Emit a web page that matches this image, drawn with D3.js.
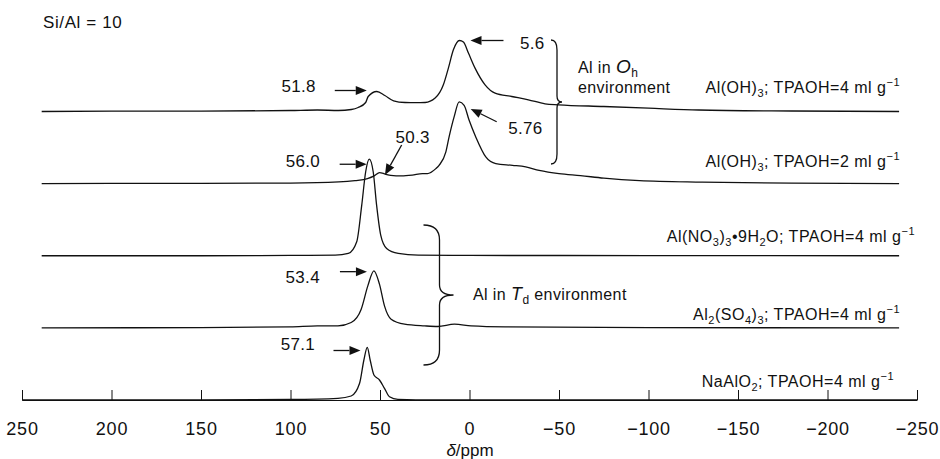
<!DOCTYPE html>
<html>
<head>
<meta charset="utf-8">
<script src="https://cdn.jsdelivr.net/npm/d3@7"></script>
<style>
  html, body { margin: 0; padding: 0; background: #fff; }
  svg text { font-family: "Liberation Sans", Arial, sans-serif; fill: #111; }
</style>
</head>
<body>
<svg id="chart" width="940" height="459"></svg>
<script>
// 27Al MAS NMR spectra of silicalite-type samples, Si/Al = 10, stacked by aluminium source.
// Each spectrum: [chemical shift (ppm), intensity (a.u.)]

const ohTpa4 = [
  [239, 0], [200, 0.3], [150, 0.3], [100, 1], [85, 1.5], [73.2, 1], [66, 2], [62.2, 4], [58, 9],
  [56.6, 15], [51.8, 20], [47.3, 16], [42.4, 10.7], [36, 9], [30, 8.8], [24.8, 9], [19.2, 13.4],
  [14.6, 26.7], [11.8, 43.4], [9.0, 61.7], [5.6, 71], [3.4, 69.4], [0.6, 58.4], [-3.1, 43.4],
  [-8.7, 26.7], [-14.3, 18.4], [-23.6, 15], [-32.9, 11.7], [-42.2, 7.7], [-49.7, 6.7], [-75, 5],
  [-100, 3.3], [-128, 1.5], [-180, 0.5], [-240, 0]
];

const ohTpa2 = [
  [239, 0], [200, 0.3], [150, 0.3], [100, 0.6], [73, 1.7], [64, 3], [57, 5], [53, 8], [50.3, 11],
  [47, 9.5], [44, 8.3], [38, 7.7], [32, 8.5], [26.3, 10], [23.5, 10], [18.8, 15], [17, 18.3],
  [13.2, 31.7], [11.4, 46.7], [8.6, 66.7], [5.76, 81.7], [3, 78.3], [0.2, 63.3], [-3.5, 46.7],
  [-9.1, 26.7], [-14.7, 20], [-24, 18.3], [-31.4, 16.7], [-38.9, 13.3], [-50, 10], [-62, 8],
  [-75, 5.5], [-95, 3], [-130, 1.5], [-180, 0.5], [-240, 0]
];

const nitrateTpa4 = [
  [239, 0], [150, 0], [100, 0.3], [75, 0.6], [67.7, 2.3], [63, 14], [60.2, 50.6], [58, 84],
  [56.0, 96.6], [53.8, 84], [51.9, 50.6], [49.6, 20.6], [46.3, 7.3], [39.8, 2.3], [28.6, 0.6],
  [0, 0.3], [-100, 0.2], [-240, 0]
];

const sulfateTpa4 = [
  [239, 0], [150, 0.3], [100, 1], [85, 2], [73.5, 2], [66.1, 5.4], [60.5, 18.7], [56.8, 42],
  [53.4, 57], [50.3, 43.7], [47.5, 22], [43.8, 8.7], [36.3, 3.7], [25.1, 2], [17.7, 1.4],
  [8.4, 3.7], [-0.9, 2], [-20, 1], [-100, 0.3], [-240, 0]
];

const aluminateTpa4 = [
  [250, 0], [150, 0], [100, 0.5], [73.5, 1.7], [66.1, 4], [61.4, 16.7], [59, 40], [57.1, 52.7],
  [55.5, 40], [53.4, 25], [50.3, 20], [47.5, 11.7], [44.7, 3.3], [40, 0.7], [20, 0], [-250, 0]
];

const spectra = [ohTpa4, ohTpa2, nitrateTpa4, sulfateTpa4, aluminateTpa4];
const sampleIds = ["oh4", "oh2", "no3", "so4", "alo2"];

// sample labels as rich-text runs
const sampleLabels = [
  [{ t: "Al(OH)" }, { t: "3", sub: true }, { t: "; TPAOH=4 ml g" }, { t: "\u22121", sup: true }],
  [{ t: "Al(OH)" }, { t: "3", sub: true }, { t: "; TPAOH=2 ml g" }, { t: "\u22121", sup: true }],
  [{ t: "Al(NO" }, { t: "3", sub: true }, { t: ")" }, { t: "3", sub: true }, { t: "\u20229H" },
   { t: "2", sub: true }, { t: "O; TPAOH=4 ml g" }, { t: "\u22121", sup: true }],
  [{ t: "Al" }, { t: "2", sub: true }, { t: "(SO" }, { t: "4", sub: true }, { t: ")" },
   { t: "3", sub: true }, { t: "; TPAOH=4 ml g" }, { t: "\u22121", sup: true }],
  [{ t: "NaAlO" }, { t: "2", sub: true }, { t: "; TPAOH=4 ml g" }, { t: "\u22121", sup: true }]
];

const tickValues = [250, 200, 150, 100, 50, 0, -50, -100, -150, -200, -250];

// labelled peak positions: [spectrum index, shift]
const peakShifts = [[0, 51.8], [0, 5.6], [1, 5.76], [1, 50.3], [2, 56.0], [3, 53.4], [4, 57.1]];

const svg = d3.select("#chart");

const x = d3.scaleLinear().domain([250, -250]).range([22, 917]);
const baseline = d3.scalePoint().domain(sampleIds).range([111.5, 400]);
const amp = d3.scaleLinear().domain([0, 100]).range([0, 100]);

function yOf(i, v) { return baseline(sampleIds[i]) - amp(v); }

// axis along the bottom spectrum's baseline, ticks pointing up
const axis = d3.axisBottom(x)
  .tickValues(tickValues)
  .tickFormat(d3.format("d"))
  .tickSizeInner(-10)
  .tickSizeOuter(0)
  .tickPadding(22);

const gAxis = svg.append("g").attr("transform", `translate(0,${baseline("alo2")})`).call(axis);
gAxis.select(".domain").attr("stroke", "#111").attr("stroke-width", 1.2);
gAxis.selectAll(".tick line").attr("stroke", "#111").attr("stroke-width", 1);
gAxis.selectAll(".tick text")
  .attr("font-size", 18)
  .attr("letter-spacing", 0.8)
  .attr("fill", "#111")
  .style("font-family", '"Liberation Sans", Arial, sans-serif');

const axisTitle = svg.append("text")
  .attr("x", 470).attr("y", 456)
  .attr("text-anchor", "middle")
  .attr("font-size", 17);
axisTitle.append("tspan").attr("font-style", "italic").text("\u03b4");
axisTitle.append("tspan").text("/ppm");

// spectra
spectra.forEach((data, i) => {
  const line = d3.line()
    .x(d => x(d[0]))
    .y(d => yOf(i, d[1]))
    .curve(d3.curveMonotoneX);
  svg.append("path")
    .datum(data)
    .attr("d", line)
    .attr("fill", "none")
    .attr("stroke", "#111")
    .attr("stroke-width", 1.3)
    .attr("stroke-linejoin", "round");
});

function richText(sel, runs, subSize, supSize) {
  runs.forEach(r => {
    const ts = sel.append("tspan").text(r.t);
    if (r.sub) ts.attr("font-size", subSize).attr("baseline-shift", "-4px");
    if (r.sup) ts.attr("font-size", supSize).attr("baseline-shift", "7px");
    if (r.it) ts.attr("font-style", "italic").attr("font-size", r.size);
  });
}

// sample labels, right-aligned above each spectrum
const labelPlace = [
  { x: 900, dy: -18.5 }, { x: 900, dy: -17 }, { x: 915, dy: -14 }, { x: 900, dy: -7.5 }, { x: 894, dy: -13.5 }
];
sampleLabels.forEach((runs, i) => {
  const t = svg.append("text")
    .attr("x", labelPlace[i].x)
    .attr("y", baseline(sampleIds[i]) + labelPlace[i].dy)
    .attr("text-anchor", "end")
    .attr("letter-spacing", 0.5)
    .attr("font-size", 16);
  richText(t, runs, 11, 11);
});

svg.append("text").attr("x", 43).attr("y", 28).attr("font-size", 17)
  .attr("letter-spacing", 0.6).text("Si/Al = 10");

// peak arrows: tip offset from peak apex, tail offset from tip, text offset from tail
const arrowLayout = [
  { tip: [-10, -1], tail: [-32, 0], txt: [-19, 1], anchor: "end" },
  { tip: [11, 0], tail: [33, 0], txt: [16.5, 8.5], anchor: "start" },
  { tip: [11.5, 7], tail: [26, 12.8], txt: [11.6, 12.3], anchor: "start" },
  { tip: [5.5, 2.4], tail: [16.7, -30], txt: [11, -2], anchor: "middle" },
  { tip: [-2.6, 5.1], tail: [-27, 0], txt: [-19.7, 2.7], anchor: "end" },
  { tip: [-7, 0.8], tail: [-27, 0], txt: [-20, 11.3], anchor: "end" },
  { tip: [-6.8, 3.2], tail: [-27, 0], txt: [-18.5, -0.5], anchor: "end" }
];

const fmtShift = v => (v === 5.76 ? "5.76" : d3.format(".1f")(v));

peakShifts.forEach(([si, ppm], k) => {
  const data = spectra[si];
  const pt = data.find(d => d[0] === ppm);
  const ax = x(ppm), ay = yOf(si, pt[1]);
  const L = arrowLayout[k];
  const tx = ax + L.tip[0], ty = ay + L.tip[1];
  const sx = tx + L.tail[0], sy = ty + L.tail[1];
  const len = Math.hypot(tx - sx, ty - sy);
  const ux = (tx - sx) / len, uy = (ty - sy) / len;
  const hl = 11, hw = 4.5;
  const bx = tx - ux * hl, by = ty - uy * hl;
  svg.append("line")
    .attr("x1", sx).attr("y1", sy).attr("x2", bx).attr("y2", by)
    .attr("stroke", "#111").attr("stroke-width", 1.3);
  svg.append("path")
    .attr("d", `M${tx},${ty}L${bx - uy * hw},${by + ux * hw}L${bx + uy * hw},${by - ux * hw}Z`)
    .attr("fill", "#111");
  svg.append("text")
    .attr("x", sx + L.txt[0]).attr("y", sy + L.txt[1])
    .attr("text-anchor", L.anchor)
    .attr("font-size", 17)
    .attr("letter-spacing", 0.3)
    .text(fmtShift(ppm));
});

// curly braces grouping the coordination environments
function bracePath(bx, y0, ym, y1, hw, hv, tw, tv) {
  return `M${bx - hw},${y0}Q${bx},${y0} ${bx},${y0 + hv}` +
         `L${bx},${ym - tv}Q${bx},${ym} ${bx + tw},${ym}` +
         `Q${bx},${ym} ${bx},${ym + tv}` +
         `L${bx},${y1 - hv}Q${bx},${y1} ${bx - hw},${y1}`;
}
svg.append("path")
  .attr("d", bracePath(557, 40, 102, 164, 6, 10, 5, 6))
  .attr("fill", "none").attr("stroke", "#111").attr("stroke-width", 1.3);
svg.append("path")
  .attr("d", bracePath(439.5, 225, 295, 365, 16, 15, 14, 10))
  .attr("fill", "none").attr("stroke", "#111").attr("stroke-width", 1.3);

const oh = svg.append("text").attr("x", 578).attr("y", 73).attr("font-size", 16).attr("letter-spacing", 0.4);
richText(oh, [{ t: "Al in " }, { t: "O", it: true, size: 19 }, { t: "h", sub: true }], 12, 12);
svg.append("text").attr("x", 578).attr("y", 93).attr("font-size", 16).attr("letter-spacing", 0.4).text("environment");

const td = svg.append("text").attr("x", 473).attr("y", 300).attr("font-size", 16).attr("letter-spacing", 0.4);
richText(td, [{ t: "Al in " }, { t: "T", it: true, size: 18 }, { t: "d", sub: true }, { t: " environment" }], 12, 12);
</script>
</body>
</html>
